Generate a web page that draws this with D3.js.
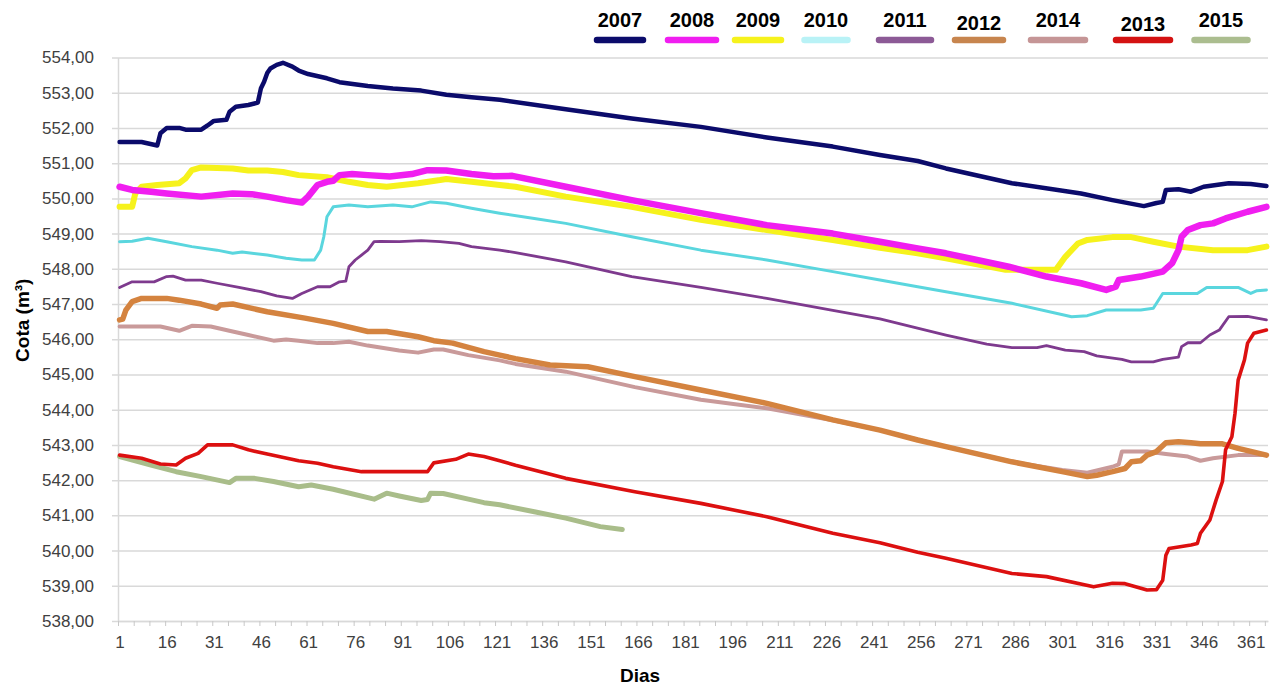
<!DOCTYPE html>
<html>
<head>
<meta charset="utf-8">
<script src="https://cdn.jsdelivr.net/npm/d3@7"></script>
<style>
  html, body { margin: 0; padding: 0; background: #fff; }
  #vis { width: 1274px; height: 686px; }
  text { font-family: "Liberation Sans", Arial, sans-serif; }
</style>
</head>
<body>
<div id="vis"></div>
<script>
// daily reservoir level (cota) per year, read as [day, value] points
const s2007 = [[1,551.6],[8,551.6],[13,551.5],[14,551.85],[16,552.0],[20,552.0],[22,551.95],[27,551.95],[29,552.07],[31,552.2],[35,552.23],[36,552.46],[38,552.6],[42,552.65],[45,552.72],[46,553.13],[47,553.31],[48,553.56],[49,553.69],[51,553.79],[53,553.85],[56,553.74],[58,553.63],[61,553.53],[67,553.41],[71,553.3],[80,553.19],[88,553.12],[97,553.06],[105,552.94],[113,552.87],[122,552.8],[143,552.53],[164,552.27],[186,552.03],[207,551.73],[228,551.47],[243,551.23],[255,551.06],[264,550.85],[285,550.43],[307,550.14],[317,549.95],[327,549.78],[331,549.87],[333,549.9],[334,550.24],[338,550.26],[342,550.19],[346,550.33],[350,550.38],[354,550.43],[361,550.41],[366,550.35]];
const s2008 = [[1,550.33],[5,550.24],[11,550.19],[16,550.14],[27,550.05],[37,550.14],[43,550.12],[48,550.05],[54,549.95],[59,549.88],[61,550.05],[64,550.38],[67,550.47],[69,550.5],[71,550.66],[75,550.69],[80,550.66],[87,550.62],[94,550.69],[99,550.8],[105,550.79],[113,550.69],[120,550.63],[126,550.64],[143,550.33],[164,549.95],[186,549.58],[207,549.24],[228,549.0],[243,548.77],[255,548.58],[264,548.44],[284,548.06],[296,547.78],[307,547.59],[315,547.4],[318,547.49],[319,547.68],[326,547.78],[333,547.92],[336,548.16],[338,548.53],[339,548.91],[341,549.1],[345,549.24],[349,549.29],[353,549.43],[360,549.62],[366,549.76]];
const s2009 = [[1,549.76],[5,549.76],[6,550.14],[8,550.33],[13,550.38],[20,550.43],[22,550.57],[24,550.8],[27,550.88],[37,550.85],[42,550.79],[48,550.79],[53,550.75],[58,550.66],[67,550.6],[74,550.47],[80,550.38],[86,550.33],[96,550.43],[103,550.52],[105,550.55],[113,550.47],[122,550.38],[127,550.33],[143,550.05],[164,549.76],[186,549.39],[207,549.1],[228,548.82],[243,548.6],[255,548.44],[264,548.3],[283,547.97],[299,547.97],[302,548.34],[306,548.72],[309,548.82],[317,548.9],[323,548.9],[330,548.77],[338,548.63],[349,548.53],[360,548.53],[366,548.63]];
const s2010 = [[1,548.77],[5,548.78],[10,548.87],[16,548.77],[24,548.63],[32,548.53],[37,548.44],[40,548.48],[48,548.39],[54,548.3],[59,548.25],[63,548.25],[65,548.53],[66,548.91],[67,549.48],[69,549.76],[74,549.81],[80,549.76],[88,549.81],[94,549.76],[100,549.9],[105,549.86],[113,549.72],[122,549.58],[133,549.43],[143,549.29],[164,548.91],[186,548.53],[207,548.25],[228,547.92],[243,547.68],[255,547.49],[264,547.35],[285,547.02],[304,546.64],[309,546.67],[315,546.83],[326,546.83],[330,546.88],[333,547.3],[344,547.3],[347,547.47],[357,547.47],[361,547.3],[363,547.38],[366,547.4]];
const s2011 = [[1,547.47],[5,547.63],[12,547.63],[16,547.78],[18,547.79],[22,547.68],[27,547.68],[32,547.59],[39,547.47],[46,547.35],[51,547.23],[56,547.16],[59,547.3],[64,547.49],[68,547.49],[71,547.63],[73,547.65],[74,548.06],[76,548.25],[78,548.39],[80,548.53],[82,548.77],[84,548.78],[90,548.77],[97,548.8],[103,548.77],[109,548.72],[113,548.63],[122,548.53],[127,548.46],[143,548.2],[164,547.78],[186,547.47],[207,547.16],[228,546.82],[243,546.58],[253,546.36],[264,546.12],[277,545.86],[285,545.76],[293,545.76],[296,545.82],[302,545.69],[308,545.65],[312,545.53],[320,545.43],[323,545.36],[330,545.36],[333,545.43],[338,545.49],[339,545.79],[341,545.9],[345,545.9],[348,546.12],[351,546.26],[354,546.64],[360,546.65],[366,546.55]];
const s2012 = [[1,546.55],[2,546.57],[3,546.83],[5,547.07],[8,547.16],[16,547.16],[20,547.11],[27,547.0],[32,546.88],[33,546.97],[37,547.0],[48,546.78],[60,546.6],[69,546.45],[80,546.22],[86,546.22],[96,546.07],[101,545.96],[107,545.89],[117,545.65],[122,545.55],[127,545.45],[138,545.27],[150,545.22],[165,544.94],[186,544.56],[207,544.18],[228,543.71],[243,543.42],[255,543.14],[264,542.95],[285,542.52],[301,542.24],[309,542.1],[312,542.14],[317,542.24],[321,542.33],[323,542.52],[326,542.55],[328,542.71],[331,542.81],[334,543.06],[338,543.09],[342,543.06],[345,543.03],[352,543.03],[357,542.9],[366,542.71]];
const s2014 = [[1,546.36],[14,546.36],[20,546.24],[24,546.38],[30,546.36],[37,546.22],[42,546.12],[50,545.96],[54,545.99],[58,545.96],[64,545.89],[69,545.89],[74,545.93],[80,545.82],[90,545.68],[96,545.62],[101,545.71],[104,545.71],[112,545.55],[122,545.4],[127,545.3],[143,545.08],[165,544.64],[186,544.28],[207,544.04],[228,543.7],[243,543.42],[264,542.95],[285,542.52],[301,542.29],[309,542.21],[317,542.38],[319,542.45],[320,542.81],[328,542.81],[334,542.74],[341,542.67],[345,542.55],[349,542.62],[357,542.71],[366,542.71]];
const s2013 = [[1,542.71],[8,542.62],[14,542.46],[19,542.43],[22,542.62],[26,542.76],[29,543.0],[37,543.0],[42,542.86],[48,542.74],[58,542.55],[64,542.48],[69,542.38],[78,542.24],[85,542.24],[99,542.24],[101,542.49],[108,542.59],[112,542.74],[117,542.67],[122,542.55],[127,542.42],[143,542.05],[165,541.67],[186,541.34],[207,540.96],[228,540.49],[243,540.22],[255,539.95],[264,539.78],[285,539.35],[296,539.26],[311,538.97],[317,539.07],[321,539.06],[328,538.88],[331,538.89],[333,539.16],[334,539.87],[335,540.06],[342,540.16],[344,540.2],[345,540.49],[348,540.87],[350,541.44],[352,541.96],[353,542.86],[355,543.23],[356,543.9],[357,544.84],[359,545.41],[360,545.89],[362,546.17],[366,546.26]];
const s2015 = [[1,542.67],[11,542.43],[19,542.24],[27,542.1],[36,541.93],[38,542.05],[44,542.05],[50,541.96],[58,541.81],[62,541.86],[69,541.74],[82,541.46],[86,541.63],[90,541.55],[97,541.42],[99,541.45],[100,541.63],[104,541.62],[112,541.46],[117,541.36],[122,541.3],[133,541.1],[143,540.92],[154,540.68],[161,540.6]];

const years = ['2007', '2008', '2009', '2010', '2011', '2012', '2014', '2013', '2015'];
const seriesData = [s2007, s2008, s2009, s2010, s2011, s2012, s2014, s2013, s2015];
const yTicks = d3.range(538, 555, 1);
const xTickLabels = d3.range(1, 362, 15);

const colors = {
  '2007': '#0b0b6b', '2008': '#f01ef0', '2009': '#f6f21c', '2010': '#5ad6de',
  '2011': '#7e3a8e', '2012': '#d4833f', '2014': '#c99a9a', '2013': '#dc1010', '2015': '#a9bd8a'
};
const widths = {
  '2007': 4.5, '2008': 6.5, '2009': 6, '2010': 3, '2011': 2.8,
  '2012': 5.5, '2014': 4, '2013': 3.6, '2015': 5
};
const legendColors = {
  '2007': '#0b0b6b', '2008': '#f01ef0', '2009': '#f6f21c', '2010': '#b9f2f6',
  '2011': '#8c5a96', '2012': '#c7854e', '2014': '#c59596', '2013': '#d41212', '2015': '#abbd8f'
};
// draw order (later on top)
const drawOrder = ['2007', '2009', '2008', '2010', '2011', '2014', '2012', '2015', '2013'];

const width = 1274, height = 686;
const margin = {top: 57.5, right: 6, bottom: 65, left: 118};

const svg = d3.select('#vis').append('svg')
  .attr('width', width)
  .attr('height', height);

const x = d3.scaleLinear().domain([0.5, 366.5]).range([margin.left, width - margin.right]);
const y = d3.scaleLinear().domain([538, 554]).range([height - margin.bottom, margin.top]);
const plotW = width - margin.right - margin.left;

// y axis + gridlines
svg.append('g')
  .attr('transform', 'translate(' + margin.left + ',0)')
  .call(d3.axisLeft(y).tickValues(yTicks).tickSizeOuter(0).tickPadding(18)
    .tickFormat(d => d3.format('.2f')(d).replace('.', ',')))
  .call(g => g.select('.domain').attr('stroke', '#d9d9d9').attr('stroke-width', 1.5))
  .call(g => g.selectAll('.tick line').attr('x1', -6).attr('x2', plotW)
    .attr('stroke', '#d9d9d9').attr('stroke-width', 1.5))
  .call(g => g.selectAll('.tick text').attr('fill', '#404040').style('font-size', '17px'));

// x axis minor ticks every 5 days
svg.append('g')
  .attr('transform', 'translate(0,' + y(538) + ')')
  .call(d3.axisBottom(x).tickValues(d3.range(0.5, 367, 5)).tickSize(5).tickSizeOuter(0).tickFormat(''))
  .call(g => g.select('.domain').attr('stroke', '#d9d9d9').attr('stroke-width', 1.5))
  .call(g => g.selectAll('.tick line').attr('stroke', '#c8c8c8'));

// x tick labels
svg.append('g')
  .attr('transform', 'translate(0,' + y(538) + ')')
  .call(d3.axisBottom(x).tickValues(xTickLabels).tickSize(0).tickPadding(15))
  .call(g => g.select('.domain').remove())
  .call(g => g.selectAll('.tick text').attr('fill', '#404040').style('font-size', '17px'));

// axis titles
svg.append('text')
  .attr('transform', 'translate(29,' + ((margin.top + y(538)) / 2 - 19) + ') rotate(-90)')
  .attr('text-anchor', 'middle')
  .style('font-size', '19px').style('font-weight', 'bold').attr('fill', '#000')
  .text('Cota (m³)');

svg.append('text')
  .attr('x', x(166) + 2)
  .attr('y', 682)
  .attr('text-anchor', 'middle')
  .style('font-size', '19px').style('font-weight', 'bold').attr('fill', '#000')
  .text('Dias');

// lines
const line = d3.line()
  .x(d => x(d[0]))
  .y(d => y(d[1]));

const byYear = {};
years.forEach((yr, i) => { byYear[yr] = seriesData[i]; });

drawOrder.forEach(yr => {
  svg.append('path')
    .attr('d', line(byYear[yr]))
    .attr('fill', 'none')
    .attr('stroke', colors[yr])
    .attr('stroke-width', widths[yr])
    .attr('stroke-linejoin', 'round')
    .attr('stroke-linecap', 'round');
});

// legend
const legendX = d3.scaleOrdinal()
  .domain(years)
  .range([620, 692, 758, 826, 905, 979, 1058, 1143, 1221]);
const legendW = [52, 54, 52, 49, 58, 54, 60, 60, 59];
const legendDy = [0, 0, 0, 0, 0, 3, 0, 4, 0];

const lg = svg.append('g');
years.forEach((yr, i) => {
  lg.append('text')
    .attr('x', legendX(yr))
    .attr('y', 27 + legendDy[i])
    .attr('text-anchor', 'middle')
    .style('font-size', '20px').style('font-weight', 'bold').attr('fill', '#000')
    .text(yr);
  lg.append('line')
    .attr('x1', legendX(yr) - legendW[i] / 2 + 3)
    .attr('x2', legendX(yr) + legendW[i] / 2 - 3)
    .attr('y1', 40).attr('y2', 40)
    .attr('stroke', legendColors[yr])
    .attr('stroke-width', 6.5)
    .attr('stroke-linecap', 'round');
});
</script>
</body>
</html>
